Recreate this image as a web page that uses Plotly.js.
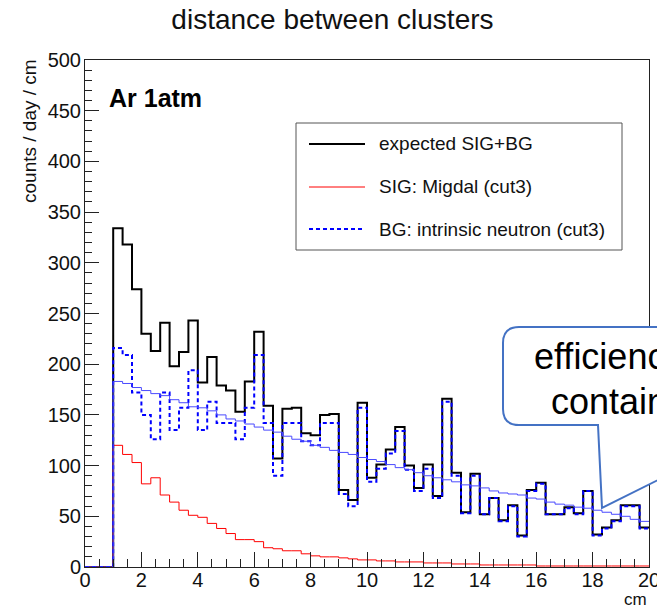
<!DOCTYPE html>
<html><head><meta charset="utf-8">
<script src="https://cdn.plot.ly/plotly-3.0.1.min.js"></script>
<style>html,body{margin:0;padding:0;background:#fff;overflow:hidden;} #chart{width:657px;height:607px;}</style>
</head><body><div id="chart"></div>
<script>
// ---- data (counts / day / cm), 1/3-cm bins from 1 cm to 20 cm ----
const binWidth = 1 / 3;
const xStart = 0;
const emptyBins = [0, 0, 0]; // 0 - 1 cm
const sigPlusBg = [334, 318, 274, 230, 213, 241, 198, 212, 243, 182, 207, 179, 174, 153, 183,
  232, 159, 107, 156, 157, 132, 130, 150, 151, 76, 66, 162, 88, 101, 116,
  138, 100, 78, 101, 70, 166, 93, 54, 92, 52, 68, 46, 61, 31, 76,
  83, 52, 52, 59, 53, 75, 32, 39, 46, 61, 61, 39];
const sigMigdal = [120, 111, 103, 82, 88, 71, 64, 56, 51, 49, 43, 38, 33, 27, 27,
  25, 19, 18, 16, 16, 13, 11, 10, 10, 9, 8, 7, 7, 6, 6,
  5, 5, 5, 4, 4, 4, 3, 3, 3, 2, 2, 2, 2, 2, 2,
  1, 1, 1, 1, 1, 1, 1, 1, 1, 1, 1, 1];
const bgNeutron = [216, 209, 172, 150, 126, 172, 135, 157, 194, 135, 163, 142, 142, 126, 157,
  209, 142, 90, 142, 142, 124, 120, 142, 142, 72, 60, 157, 84, 97, 112,
  134, 96, 75, 97, 68, 163, 90, 53, 90, 52, 68, 45, 60, 30, 75,
  82, 52, 52, 58, 52, 75, 31, 38, 45, 60, 60, 38];
const bgExpected = [183, 181, 177, 174, 171, 169, 165, 162, 158, 157, 154, 150, 146, 144, 141,
  138, 135, 133, 129, 126, 124, 120, 118, 115, 113, 111, 108, 106, 104, 101,
  98, 96, 93, 90, 88, 86, 84, 81, 80, 78, 75, 73, 72, 71, 68,
  67, 64, 62, 61, 59, 58, 56, 54, 52, 50, 47, 45];
const seriesNames = ['expected SIG+BG', 'SIG: Migdal (cut3)', 'BG: intrinsic neutron (cut3)'];
const xTickVals = [0, 2, 4, 6, 8, 10, 12, 14, 16, 18, 20];
const yTickVals = [0, 50, 100, 150, 200, 250, 300, 350, 400, 450, 500];

function stepXY(vals) {
  const all = emptyBins.concat(vals);
  const x = [], y = [];
  all.forEach((v, i) => { x.push(xStart + i * binWidth); y.push(v); });
  x.push(xStart + all.length * binWidth); y.push(all[all.length - 1]);
  return { x, y };
}

const FONT = 'Liberation Sans, Arial, Helvetica, sans-serif';
const BLUE = '#0000ff';
const traces = [
  Object.assign(stepXY(sigPlusBg), { name: seriesNames[0], type: 'scatter', mode: 'lines', line: { shape: 'hv', color: '#000000', width: 2 } }),
  Object.assign(stepXY(sigMigdal), { name: seriesNames[1], type: 'scatter', mode: 'lines', line: { shape: 'hv', color: '#ff0000', width: 1 } }),
  Object.assign(stepXY(bgNeutron), { name: seriesNames[2], type: 'scatter', mode: 'lines', line: { shape: 'hv', color: BLUE, width: 2, dash: '4px,3px' } }),
  Object.assign(stepXY(bgExpected), { name: 'BG fit', type: 'scatter', mode: 'lines', line: { shape: 'hv', color: '#4a4aff', width: 1 } })
];

// pixel -> paper helpers (plot area 85..649 x 60..567)
const PL = 85, PR = 649, PT = 60, PB = 567;
const px = v => (v - PL) / (PR - PL);
const py = v => (PB - v) / (PB - PT);

const shapes = [];
const annotations = [];

// legend box
shapes.push({ type: 'rect', xref: 'paper', yref: 'paper', x0: px(296), x1: px(622), y0: py(123), y1: py(250),
  line: { color: '#555555', width: 1 }, fillcolor: '#ffffff', layer: 'above' });
const legRows = [144, 187, 229];
const legStyles = [
  { color: '#000000', width: 2 },
  { color: '#ff0000', width: 1 },
  { color: BLUE, width: 2, dash: '4px,3px' }
];
legRows.forEach((ry, i) => {
  shapes.push({ type: 'line', xref: 'paper', yref: 'paper', x0: px(309), x1: px(365), y0: py(ry), y1: py(ry), line: legStyles[i], layer: 'above' });
  annotations.push({ xref: 'paper', yref: 'paper', x: px(377), y: py(ry), xanchor: 'left', yanchor: 'middle', showarrow: false,
    text: seriesNames[i], font: { family: FONT, size: 19, color: '#111' } });
});

// callout
const cl = 503, ct = 327, cb = 425, cr = 720, rr = 16;
const path = `M ${px(cl + rr)},${py(ct)} L ${px(cr)},${py(ct)} L ${px(cr)},${py(449)} L ${px(602)},${py(508)} L ${px(598)},${py(cb)} ` +
  `L ${px(cl + rr)},${py(cb)} Q ${px(cl)},${py(cb)} ${px(cl)},${py(cb - rr)} L ${px(cl)},${py(ct + rr)} Q ${px(cl)},${py(ct)} ${px(cl + rr)},${py(ct)} Z`;
shapes.push({ type: 'path', xref: 'paper', yref: 'paper', path: path, fillcolor: '#ffffff', line: { color: '#4472c4', width: 2 }, layer: 'above' });
annotations.push({ xref: 'paper', yref: 'paper', x: px(532), y: py(356), xanchor: 'left', yanchor: 'middle', showarrow: false,
  text: 'efficiency', font: { family: FONT, size: 36, color: '#000' } });
annotations.push({ xref: 'paper', yref: 'paper', x: px(549), y: py(401), xanchor: 'left', yanchor: 'middle', showarrow: false,
  text: 'contains', font: { family: FONT, size: 36, color: '#000' } });

// text labels
annotations.push({ xref: 'paper', yref: 'paper', x: px(107), y: py(98), xanchor: 'left', yanchor: 'middle', showarrow: false,
  text: '<b>Ar 1atm</b>', font: { family: FONT, size: 25, color: '#000' } });
annotations.push({ xref: 'paper', yref: 'paper', x: 1, y: py(599), xanchor: 'right', yanchor: 'middle', showarrow: false,
  text: 'cm', font: { family: FONT, size: 17, color: '#111' } });
annotations.push({ xref: 'paper', yref: 'paper', x: px(29), y: py(131), xanchor: 'center', yanchor: 'middle', showarrow: false,
  textangle: -90, text: 'counts / day / cm', font: { family: FONT, size: 19, color: '#111' } });

const axisCommon = {
  showgrid: false, zeroline: false, showline: true, linecolor: '#222', linewidth: 1, mirror: true,
  ticks: 'inside', tickcolor: '#222', tickwidth: 1, ticklabeloverflow: 'allow',
  tickfont: { family: FONT, size: 20, color: '#111' }
};

const layout = {
  width: 657, height: 607,
  margin: { l: PL, r: 657 - PR, t: PT, b: 607 - PB, pad: 0 },
  paper_bgcolor: '#ffffff', plot_bgcolor: '#ffffff',
  showlegend: false,
  title: { text: 'distance between clusters', x: 0.506, xanchor: 'center', y: 1 - 19 / 607, yanchor: 'middle', yref: 'container',
    font: { family: FONT, size: 28, color: '#111' } },
  xaxis: Object.assign({}, axisCommon, { range: [0, 20], tickmode: 'array', tickvals: xTickVals, ticklen: 15, ticklabelstandoff: -5,
    minor: { dtick: 0.5, ticklen: 8, ticks: 'inside', tickcolor: '#222', showgrid: false } }),
  yaxis: Object.assign({}, axisCommon, { range: [0, 500], tickmode: 'array', tickvals: yTickVals, ticklen: 14, ticklabelstandoff: -1,
    minor: { dtick: 10, ticklen: 7, ticks: 'inside', tickcolor: '#222', showgrid: false } }),
  shapes: shapes,
  annotations: annotations
};

Plotly.newPlot('chart', traces, layout, { staticPlot: true, displayModeBar: false });
</script>
</body></html>
